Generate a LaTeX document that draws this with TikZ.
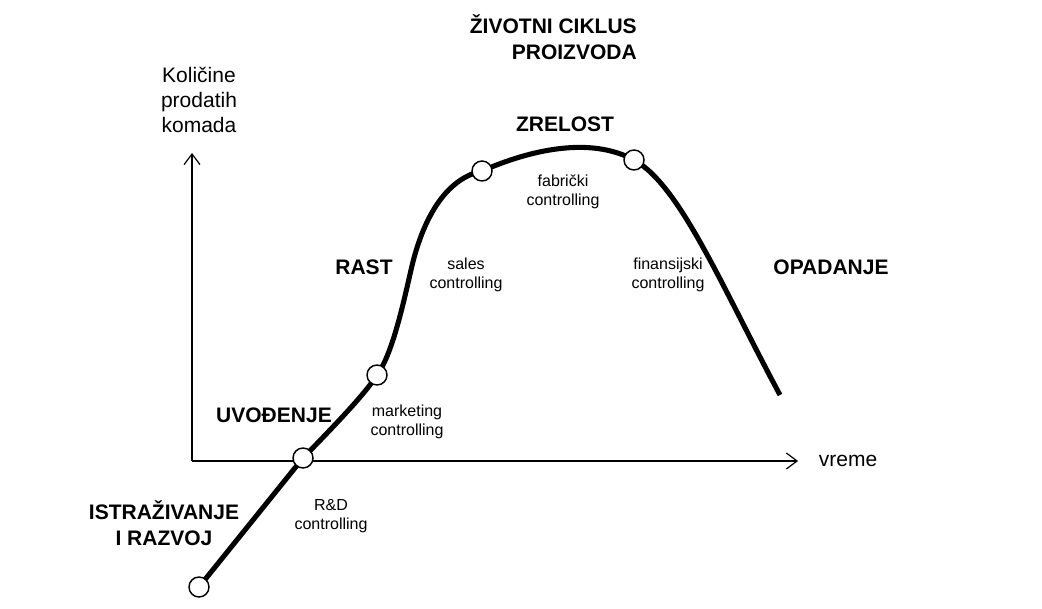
\documentclass[tikz,border=0pt]{standalone}
\usepackage{fontspec}
\setmainfont{Liberation Sans}
\usetikzlibrary{arrows.meta,backgrounds}
\begin{document}
\begin{tikzpicture}[x=0.75pt,y=-0.75pt,
  axis/.style={line width=0.9pt,-{Straight Barb[length=8pt,width=12pt]}},
  life/.style={line width=3.8pt,line cap=butt,line join=round},
  dot/.style={circle,draw,line width=1.1pt,fill=white,minimum size=15pt,inner sep=0pt},
  phase/.style={font=\fontsize{15.75}{19.5}\selectfont\bfseries,align=center,inner sep=0pt},
  ctrl/.style={font=\fontsize{12}{13.9}\selectfont,align=center,inner sep=0pt},
  big/.style={font=\fontsize{15.75}{18.8}\selectfont,align=center,inner sep=0pt}]
\useasboundingbox (0,0) rectangle (1042,609);
% axes
\coordinate (o) at (192,461);
\coordinate (ytip) at (192,153);
\coordinate (xtip) at (798,461);
\draw[axis] (o) -- (ytip);
\draw[axis] (o) -- (xtip);
% stage points
\node[dot] (c1) at (199,587) {};
\node[dot] (c2) at (303,458) {};
\node[dot] (c3) at (377,375) {};
\node[dot] (c4) at (482,171) {};
\node[dot] (c5) at (634,160) {};
\coordinate (m1) at (411,270);
\coordinate (pend) at (780,395);
\begin{scope}[on background layer]
\draw[life] (c1.center) -- (c2.center)
  .. controls (343,417) and (367,391) .. (c3.center)
  .. controls (392,355) and (403,305) .. (m1)
  .. controls (420,230) and (440,180) .. (c4.center)
  .. controls (530,150) and (590,136) .. (c5.center)
  .. controls (680,185) and (722,287) .. (pend);
\end{scope}
% texts
\node[phase,align=right,anchor=east] (title) at (637,37) {ŽIVOTNI CIKLUS\\PROIZVODA};
\node[big] (yl) at (199,100) {Količine\\prodatih\\komada};
\node[big] (xl) at (848,461) {vreme};
\node[phase] (zrelost) at (565,124) {ZRELOST};
\node[phase] (rast) at (364,267) {RAST};
\node[phase] (opad) at (831,267) {OPADANJE};
\node[phase] (uvod) at (274,415) {UVOĐENJE};
\node[phase] (istr) at (164,523) {ISTRAŽIVANJE\\I RAZVOJ};
\node[ctrl] (fab) at (563,192) {fabrički\\controlling};
\node[ctrl] (sales) at (466,275) {sales\\controlling};
\node[ctrl] (fin) at (668,275) {finansijski\\controlling};
\node[ctrl] (mkt) at (407,422) {marketing\\controlling};
\node[ctrl] (rd) at (331,516) {R\&D\\controlling};
\end{tikzpicture}
\end{document}
